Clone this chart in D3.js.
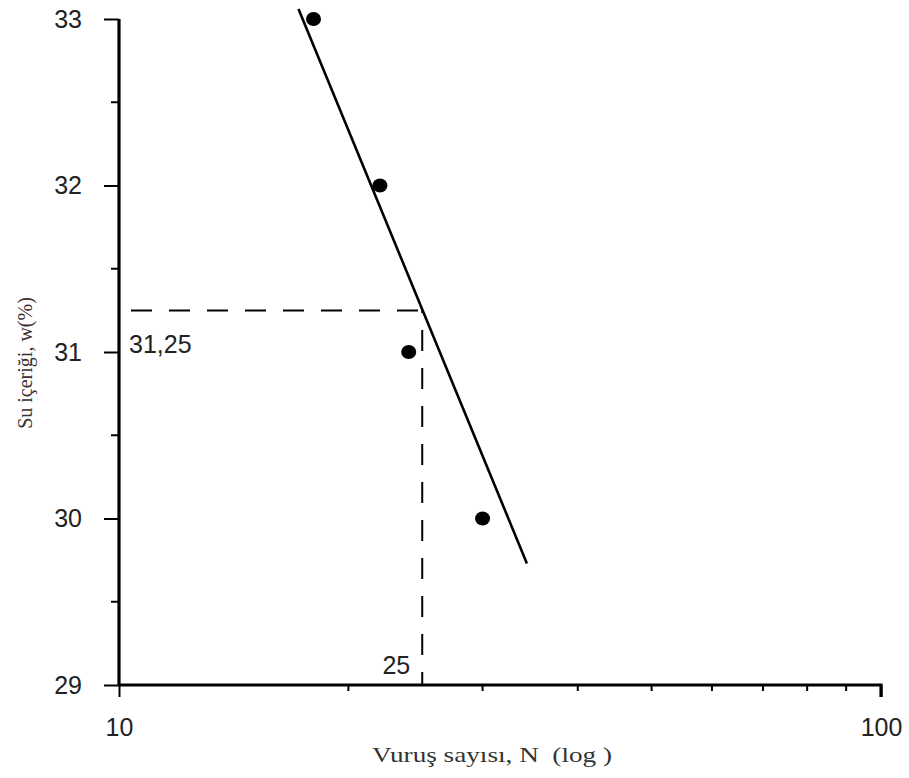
<!DOCTYPE html>
<html>
<head>
<meta charset="utf-8">
<script src="https://cdn.jsdelivr.net/npm/d3@7"></script>
<style>
  html, body { margin: 0; padding: 0; background: #fff; }
  svg { display: block; }
</style>
</head>
<body>
<svg id="chart" width="909" height="778"></svg>
<script>
// Flow curve test results: blow count N against water content w (%)
const blows = [18, 22, 24, 30];
const waterContent = [33, 32, 31, 30];

// Fitted flow line (two end points, N and w)
const flowLineN = [17.2, 34.3];
const flowLineW = [33.06, 29.73];

// Liquid-limit reading at 25 blows
const readN = 25;
const readW = 31.25;
const readWLabel = "31,25";
const readNLabel = "25";

// Axis ticks
const yMajorTicks = [29, 30, 31, 32, 33];
const yMinorTicks = [29.5, 30.5, 31.5, 32.5];
const xMajorTicks = [10, 100];
const xMinorTicks = [20, 30, 40, 50, 60, 70, 80, 90];

const xTitle = "Vuruş sayısı, N  (log )";
const yTitle = "Su içeriği, w(%)";

const svg = d3.select("#chart");

const x = d3.scaleLog().domain([10, 100]).range([119, 881]);
const y = d3.scaleLinear().domain([29, 33]).range([685, 19]);

const tickFont = "'Liberation Sans', Arial, sans-serif";
const titleFont = "'Liberation Serif', 'Times New Roman', serif";

// Y axis: major ticks with labels, minor ticks without
const yAxis = d3.axisLeft(y).tickValues(yMajorTicks).tickSize(15).tickPadding(22)
  .tickFormat(d3.format("d"));
const gy = svg.append("g").attr("transform", `translate(${x(10)},0)`).call(yAxis);
gy.append("g").selectAll("line").data(yMinorTicks).join("line")
  .attr("x1", -8).attr("x2", 0)
  .attr("y1", d => y(d)).attr("y2", d => y(d))
  .attr("stroke", "#000").attr("stroke-width", 2);

// X axis: log scale, labels only at decades
const xAxis = d3.axisBottom(x).tickValues(xMajorTicks).tickSize(12).tickPadding(21)
  .tickFormat(d3.format("d"));
const gx = svg.append("g").attr("transform", `translate(0,${y(29)})`).call(xAxis);
gx.append("g").selectAll("line").data(xMinorTicks).join("line")
  .attr("x1", d => x(d)).attr("x2", d => x(d))
  .attr("y1", 0).attr("y2", 6)
  .attr("stroke", "#000").attr("stroke-width", 2);

[gx, gy].forEach(g => {
  g.select(".domain").attr("stroke", "#000").attr("stroke-width", 3.2);
  g.selectAll(".tick line").attr("stroke", "#000").attr("stroke-width", 2);
  g.selectAll(".tick text").attr("fill", "#222")
    .style("font-family", tickFont).style("font-size", "25px");
});
gy.select(".domain").attr("d", `M0,${y(33)}V${y(29)}`);
gx.select(".domain").attr("d", `M${x(10)},0H${x(100)}V12`);

// Dashed reading lines
svg.append("line")
  .attr("x1", x(10)).attr("x2", x(readN))
  .attr("y1", y(readW)).attr("y2", y(readW))
  .attr("stroke", "#000").attr("stroke-width", 2)
  .attr("stroke-dasharray", "21,17").attr("stroke-dashoffset", 26);
svg.append("line")
  .attr("x1", x(readN)).attr("x2", x(readN))
  .attr("y1", y(29)).attr("y2", y(readW))
  .attr("stroke", "#000").attr("stroke-width", 2)
  .attr("stroke-dasharray", "21,17").attr("stroke-dashoffset", 8);

svg.append("text")
  .attr("x", x(10) + 10).attr("y", y(readW) + 43)
  .attr("fill", "#222").style("font-family", tickFont).style("font-size", "25px")
  .text(readWLabel);
svg.append("text")
  .attr("x", x(readN) - 12).attr("y", y(29) - 11)
  .attr("text-anchor", "end")
  .attr("fill", "#222").style("font-family", tickFont).style("font-size", "25px")
  .text(readNLabel);

// Flow line
const flowPts = flowLineN.map((n, i) => [n, flowLineW[i]]);
svg.append("path")
  .datum(flowPts)
  .attr("d", d3.line().x(d => x(d[0])).y(d => y(d[1])))
  .attr("fill", "none").attr("stroke", "#000").attr("stroke-width", 2.6);

// Test points
svg.append("g").selectAll("ellipse")
  .data(blows.map((n, i) => [n, waterContent[i]]))
  .join("ellipse")
  .attr("cx", d => x(d[0])).attr("cy", d => y(d[1]))
  .attr("rx", 7.5).attr("ry", 7)
  .attr("fill", "#000");

// Axis titles
svg.append("text")
  .attr("x", 372).attr("y", 762)
  .attr("xml:space", "preserve").style("white-space", "pre")
  .attr("textLength", 240).attr("lengthAdjust", "spacingAndGlyphs")
  .attr("fill", "#333").style("font-family", titleFont).style("font-size", "22px")
  .text(xTitle);
svg.append("text")
  .attr("transform", "translate(32,363) rotate(-90)")
  .attr("text-anchor", "middle")
  .attr("fill", "#3a2f2f").style("font-family", titleFont).style("font-size", "20px")
  .text(yTitle);
</script>
</body>
</html>
